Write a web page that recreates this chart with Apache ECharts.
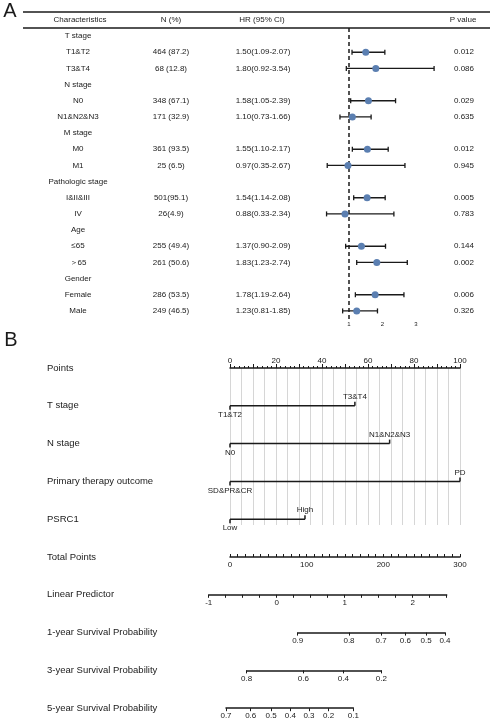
<!DOCTYPE html>
<html>
<head>
<meta charset="UTF-8">
<title>Forest plot and nomogram</title>
<script src="https://cdn.jsdelivr.net/npm/echarts@6/dist/echarts.min.js"></script>
</head>
<body style="margin:0;background:#fff;">
<div id="main" style="width:494px;height:727px;"></div>
<script>
// ---- panel A: forest plot ----
var rowLabels = ['T stage', 'T1&T2', 'T3&T4', 'N stage', 'N0', 'N1&N2&N3', 'M stage', 'M0', 'M1',
    'Pathologic stage', 'I&II&III', 'IV', 'Age', '≤65', '＞65', 'Gender', 'Female', 'Male'];
var nText = ['', '464 (87.2)', '68 (12.8)', '', '348 (67.1)', '171 (32.9)', '', '361 (93.5)', '25 (6.5)',
    '', '501(95.1)', '26(4.9)', '', '255 (49.4)', '261 (50.6)', '', '286 (53.5)', '249 (46.5)'];
var hrValue = [null, 1.50, 1.80, null, 1.58, 1.10, null, 1.55, 0.97, null, 1.54, 0.88, null, 1.37, 1.83, null, 1.78, 1.23];
var hrLow = [null, 1.09, 0.92, null, 1.05, 0.73, null, 1.10, 0.35, null, 1.14, 0.33, null, 0.90, 1.23, null, 1.19, 0.81];
var hrHigh = [null, 2.07, 3.54, null, 2.39, 1.66, null, 2.17, 2.67, null, 2.08, 2.34, null, 2.09, 2.74, null, 2.64, 1.85];
var pText = ['', '0.012', '0.086', '', '0.029', '0.635', '', '0.012', '0.945', '', '0.005', '0.783', '', '0.144', '0.002', '', '0.006', '0.326'];
var hrTicks = [1, 2, 3];

// ---- panel B: nomogram ----
var nomoRows = ['Points', 'T stage', 'N stage', 'Primary therapy outcome', 'PSRC1', 'Total Points',
    'Linear Predictor', '1-year Survival Probability', '3-year Survival Probability', '5-year Survival Probability'];
var varLevels = [['T1&T2', 'T3&T4'], ['N0', 'N1&N2&N3'], ['SD&PR&CR', 'PD'], ['Low', 'High']];
var varPoints = [[0, 54.3], [0, 69.4], [0, 100], [0, 32.6]];
var lpRange = [-1, 2.5];
var lpTotal = [-27.8, 282.6];          // total points where the linear predictor hits -1 and 2.5
var surv1Labels = [0.9, 0.8, 0.7, 0.6, 0.5, 0.4];
var surv1Total = [88.3, 155.2, 197, 228.7, 255.7, 280.4];
var surv3Labels = [0.8, 0.6, 0.4, 0.2];
var surv3Total = [21.7, 95.7, 147.8, 197.4];
var surv5Labels = [0.7, 0.6, 0.5, 0.4, 0.3, 0.2, 0.1];
var surv5Total = [-5.2, 27, 53.5, 78.7, 103, 128.7, 160.9];

var FONT = 'Arial, "Liberation Sans", sans-serif';
var INK = '#1a1a1a';

// layout
var tLeft = 23, tRight = 490, hrRef = 349, hrUnit = 33.5;
var colX = { label: 78, n: 171, hr: 263, p: 464 };
var bx0 = 230, bx1 = 460;
function tpx(tp) { return bx0 + tp * (bx1 - bx0) / 300; }
var rowY0 = 368, rowGap = 37.8;
function rowY(i) { return rowY0 + i * rowGap; }

var chart = echarts.init(document.getElementById('main'), null, { renderer: 'canvas' });

function txt(s, x, y, size, align) {
    return {
        type: 'text', x: x, y: y, silent: true,
        style: { text: s, font: size + 'px ' + FONT, fill: INK, textAlign: align || 'center', textVerticalAlign: 'middle', align: align || 'center', verticalAlign: 'middle' }
    };
}

function survAxis(grid, tps, labels) {
    return {
        type: 'value', gridIndex: grid, position: 'bottom', min: tps[0], max: tps[tps.length - 1],
        axisLine: { lineStyle: { color: INK, width: 1.5 } },
        axisTick: { customValues: tps, length: 3, lineStyle: { color: INK } },
        axisLabel: {
            customValues: tps, fontSize: 8, fontFamily: FONT, color: INK, margin: 4,
            formatter: function (v) {
                var best = 0;
                for (var i = 1; i < tps.length; i++) if (Math.abs(tps[i] - v) < Math.abs(tps[best] - v)) best = i;
                return String(labels[best]);
            }
        },
        splitLine: { show: false }
    };
}

var graphics = [
    txt('A', 10, 11, 20), txt('B', 11, 340, 20),
    { type: 'line', silent: true, shape: { x1: tLeft, y1: 12, x2: tRight, y2: 12 }, style: { stroke: INK, lineWidth: 1.6 } },
    { type: 'line', silent: true, shape: { x1: tLeft, y1: 28, x2: tRight, y2: 28 }, style: { stroke: INK, lineWidth: 1.6 } },
    txt('Characteristics', 80, 20, 8), txt('N (%)', colX.n, 20, 8),
    txt('HR (95% CI)', 262, 20, 8), txt('P value', 463, 20, 8)
];
nomoRows.forEach(function (name, i) {
    graphics.push(txt(name, 47, rowY(i), 9.5, 'left'));
});

var grids = [
    { left: tLeft, top: 28, width: tRight - tLeft, height: 291 },
    { left: bx0, top: rowY(0), width: bx1 - bx0, height: 157 },
    { left: bx0, top: rowY(5) - 1, width: bx1 - bx0, height: 1 },
    { left: tpx(lpTotal[0]), top: rowY(6) - 1, width: tpx(lpTotal[1]) - tpx(lpTotal[0]), height: 1 },
    { left: tpx(surv1Total[0]), top: rowY(7) - 1, width: tpx(surv1Total[surv1Total.length - 1]) - tpx(surv1Total[0]), height: 1 },
    { left: tpx(surv3Total[0]), top: rowY(8) - 1, width: tpx(surv3Total[surv3Total.length - 1]) - tpx(surv3Total[0]), height: 1 },
    { left: tpx(surv5Total[0]), top: rowY(9) - 1, width: tpx(surv5Total[surv5Total.length - 1]) - tpx(surv5Total[0]), height: 1 }
];

var xAxes = [
    {
        type: 'value', gridIndex: 0, min: 1 - (hrRef - tLeft) / hrUnit, max: 1 + (tRight - hrRef) / hrUnit,
        axisLine: { lineStyle: { color: INK, width: 2 } },
        axisTick: { customValues: hrTicks, length: 3, lineStyle: { color: INK } },
        axisLabel: { customValues: hrTicks, fontSize: 6, fontFamily: FONT, color: INK, margin: 2 },
        splitLine: { show: false }
    },
    {
        type: 'value', gridIndex: 1, position: 'top', min: 0, max: 100, interval: 10,
        axisLine: { lineStyle: { color: INK, width: 1.5 } },
        axisTick: { length: 4, lineStyle: { color: INK } },
        minorTick: { show: true, splitNumber: 5, length: 2, lineStyle: { color: INK } },
        axisLabel: { fontSize: 8, fontFamily: FONT, color: INK, margin: 3, formatter: function (v) { return v % 20 === 0 ? v : ''; } },
        splitLine: { show: false }
    },
    {
        type: 'value', gridIndex: 1, position: 'bottom', min: 0, max: 100, interval: 5,
        axisLine: { show: false }, axisTick: { show: false }, axisLabel: { show: false },
        splitLine: { show: true, lineStyle: { color: '#d6d6d6', width: 1 } }
    },
    {
        type: 'value', gridIndex: 2, position: 'bottom', min: 0, max: 300, interval: 10,
        axisLine: { lineStyle: { color: INK, width: 1.5 } },
        axisTick: { inside: true, length: 3, lineStyle: { color: INK } },
        axisLabel: { fontSize: 8, fontFamily: FONT, color: INK, margin: 4, formatter: function (v) { return v % 100 === 0 ? v : ''; } },
        splitLine: { show: false }
    },
    {
        type: 'value', gridIndex: 3, position: 'bottom', min: lpRange[0], max: lpRange[1], interval: 0.25,
        axisLine: { lineStyle: { color: INK, width: 1.5 } },
        axisTick: { length: 3, lineStyle: { color: INK } },
        axisLabel: { fontSize: 8, fontFamily: FONT, color: INK, margin: 4, formatter: function (v) { return Math.abs(v - Math.round(v)) < 1e-6 ? Math.round(v) : ''; } },
        splitLine: { show: false }
    },
    survAxis(4, surv1Total, surv1Labels),
    survAxis(5, surv3Total, surv3Labels),
    survAxis(6, surv5Total, surv5Labels)
];

var yAxes = [
    { type: 'category', gridIndex: 0, data: rowLabels, inverse: true, show: false },
    { type: 'value', gridIndex: 1, min: 0, max: 157 / rowGap, inverse: true, show: false }
];
for (var g = 2; g < grids.length; g++) yAxes.push({ type: 'value', gridIndex: g, min: 0, max: 1, show: false });

var tableData = rowLabels.map(function (s, i) { return [1, i]; });
var ciData = [], pointData = [];
hrValue.forEach(function (v, i) {
    if (v === null) return;
    ciData.push([hrLow[i], hrHigh[i], i]);
    pointData.push([v, i]);
});

var option = {
    animation: false,
    backgroundColor: '#fff',
    grid: grids,
    xAxis: xAxes,
    yAxis: yAxes,
    graphic: graphics,
    series: [
        {
            type: 'custom', xAxisIndex: 0, yAxisIndex: 0, silent: true,
            data: tableData,
            renderItem: function (params, api) {
                var i = api.value(1);
                var y = api.coord([1, i])[1];
                var hrS = hrValue[i] === null ? '' :
                    hrValue[i].toFixed(2) + '(' + hrLow[i].toFixed(2) + '-' + hrHigh[i].toFixed(2) + ')';
                return {
                    type: 'group',
                    children: [
                        txt(rowLabels[i], colX.label, y, 8),
                        txt(nText[i], colX.n, y, 8),
                        txt(hrS, colX.hr, y, 8),
                        txt(pText[i], colX.p, y, 8)
                    ]
                };
            }
        },
        {
            type: 'custom', xAxisIndex: 0, yAxisIndex: 0, silent: true,
            data: ciData,
            renderItem: function (params, api) {
                var a = api.coord([api.value(0), api.value(2)]);
                var b = api.coord([api.value(1), api.value(2)]);
                var st = { stroke: INK, lineWidth: 1.3 };
                return {
                    type: 'group',
                    children: [
                        { type: 'line', shape: { x1: a[0], y1: a[1], x2: b[0], y2: b[1] }, style: st },
                        { type: 'line', shape: { x1: a[0], y1: a[1] - 2.5, x2: a[0], y2: a[1] + 2.5 }, style: st },
                        { type: 'line', shape: { x1: b[0], y1: b[1] - 2.5, x2: b[0], y2: b[1] + 2.5 }, style: st }
                    ]
                };
            }
        },
        {
            type: 'scatter', xAxisIndex: 0, yAxisIndex: 0, silent: true, z: 5,
            data: pointData, symbolSize: 7,
            itemStyle: { color: '#5b7fb1', opacity: 1 },
            markLine: {
                silent: true, symbol: 'none', label: { show: false },
                lineStyle: { color: INK, width: 1.5, type: [4, 3] },
                data: [{ xAxis: 1 }]
            }
        },
        {
            type: 'custom', xAxisIndex: 1, yAxisIndex: 1, silent: true,
            data: varPoints.map(function (p, i) { return [i]; }),
            renderItem: function (params, api) {
                var k = api.value(0);
                var pts = varPoints[k], lv = varLevels[k];
                var a = api.coord([pts[0], k + 1]);
                var b = api.coord([pts[pts.length - 1], k + 1]);
                var st = { stroke: INK, lineWidth: 1.5 };
                return {
                    type: 'group',
                    children: [
                        { type: 'line', shape: { x1: a[0], y1: a[1], x2: b[0], y2: b[1] }, style: st },
                        { type: 'line', shape: { x1: a[0], y1: a[1], x2: a[0], y2: a[1] + 4 }, style: st },
                        { type: 'line', shape: { x1: b[0], y1: b[1], x2: b[0], y2: b[1] - 4 }, style: st },
                        txt(lv[0], a[0], a[1] + 9, 8),
                        txt(lv[lv.length - 1], b[0], b[1] - 9, 8)
                    ]
                };
            }
        }
    ]
};
chart.setOption(option);
</script>
</body>
</html>
